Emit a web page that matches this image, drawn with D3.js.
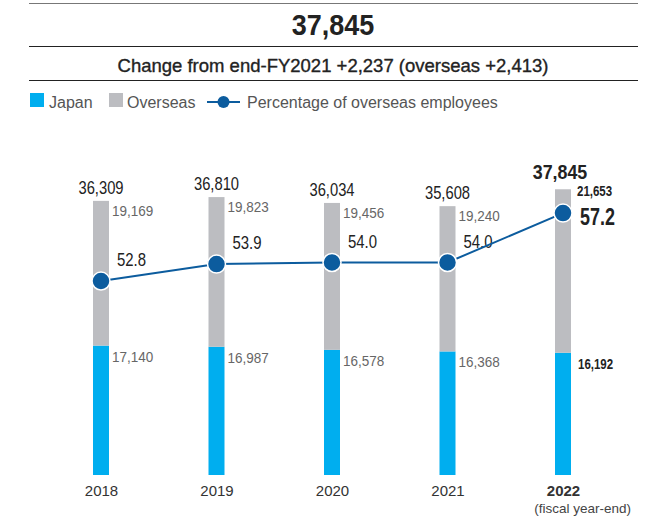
<!DOCTYPE html>
<html>
<head>
<meta charset="utf-8">
<script src="https://cdn.jsdelivr.net/npm/d3@7"></script>
<style>
  body { margin: 0; background: #fff; }
  svg { display: block; font-family: "Liberation Sans", Arial, sans-serif; }
</style>
</head>
<body>
<div class="chart"></div>
<script>
// DATA
const YEARS = ["2018", "2019", "2020", "2021", "2022"];
const JAPAN = [17140, 16987, 16578, 16368, 16192];
const OVERSEAS = [19169, 19823, 19456, 19240, 21653];
const TOTAL = [36309, 36810, 36034, 35608, 37845];
const PCT = [52.8, 53.9, 54.0, 54.0, 57.2];

const TITLE = "37,845";
const SUBTITLE = "Change from end-FY2021 +2,237 (overseas +2,413)";

// FRAME
const FRAME_WIDTH = 650;
const FRAME_HEIGHT = 516;
const BASE_Y = 475;

const COLOR_JAPAN = "#00aeef";
const COLOR_OVERSEAS = "#bcbdc1";
const COLOR_LINE = "#0c5c9e";

const FRAME = d3.select(".chart")
  .append("svg")
    .attr("width", FRAME_WIDTH)
    .attr("height", FRAME_HEIGHT);

// header lines + text
[3, 46, 80].forEach((y, i) => {
  FRAME.append("line")
    .attr("x1", 29).attr("x2", 638)
    .attr("y1", y + 0.5).attr("y2", y + 0.5)
    .attr("stroke", i == 0 ? "#777" : "#222")
    .attr("stroke-width", 1.2);
});

FRAME.append("text")
  .attr("transform", "translate(333,35) scale(0.93,1)")
  .attr("text-anchor", "middle")
  .attr("font-size", "29px")
  .attr("font-weight", "bold")
  .attr("fill", "#222")
  .text(TITLE);

FRAME.append("text")
  .attr("x", 333).attr("y", 72)
  .attr("text-anchor", "middle")
  .attr("font-size", "18.5px")
  .attr("fill", "#222")
  .attr("stroke", "#222")
  .attr("stroke-width", 0.35)
  .text(SUBTITLE);

// legend
const LEGEND = FRAME.append("g").attr("font-size", "16px").attr("fill", "#555");
LEGEND.append("rect").attr("x", 30).attr("y", 93).attr("width", 14).attr("height", 14).attr("fill", COLOR_JAPAN);
LEGEND.append("text").attr("x", 49).attr("y", 108).text("Japan");
LEGEND.append("rect").attr("x", 109).attr("y", 93).attr("width", 14).attr("height", 14).attr("fill", COLOR_OVERSEAS);
LEGEND.append("text").attr("x", 127).attr("y", 108).text("Overseas");
LEGEND.append("line").attr("x1", 207).attr("x2", 240).attr("y1", 102).attr("y2", 102)
  .attr("stroke", COLOR_LINE).attr("stroke-width", 2);
LEGEND.append("circle").attr("cx", 223.5).attr("cy", 102).attr("r", 6).attr("fill", COLOR_LINE);
LEGEND.append("text").attr("x", 247).attr("y", 108).text("Percentage of overseas employees");

// SCALES
const X_SCALE = d3.scalePoint().domain(YEARS).range([101, 563]);
const Y_SCALE = d3.scaleLinear().domain([0, 40000]).range([BASE_Y, BASE_Y - 40000 * 0.00755]);
const P_SCALE = d3.scaleLinear().domain([50, 60]).range([324.3, 169.8]);
const BAR_WIDTH = 16;

const rows = YEARS.map((y, i) => ({
  year: y, japan: JAPAN[i], overseas: OVERSEAS[i], total: TOTAL[i], pct: PCT[i],
  last: i == YEARS.length - 1
}));

const stack = d3.stack().keys(["japan", "overseas"])(rows);
const colors = {japan: COLOR_JAPAN, overseas: COLOR_OVERSEAS};

// bars
FRAME.selectAll(".layer")
  .data(stack)
  .enter()
  .append("g")
    .attr("fill", (d) => colors[d.key])
  .selectAll("rect")
  .data((d) => d)
  .enter()
  .append("rect")
    .attr("x", (d) => X_SCALE(d.data.year) - BAR_WIDTH / 2)
    .attr("y", (d) => Y_SCALE(d[1]))
    .attr("width", BAR_WIDTH)
    .attr("height", (d) => Y_SCALE(d[0]) - Y_SCALE(d[1]));

// x axis labels (no line)
const X_AXIS = FRAME.append("g")
  .attr("transform", "translate(0," + BASE_Y + ")")
  .call(d3.axisBottom(X_SCALE).tickSize(0).tickPadding(10));
X_AXIS.select(".domain").remove();
X_AXIS.selectAll("text")
  .attr("font-family", "Liberation Sans, Arial, sans-serif")
  .attr("font-size", "15px")
  .attr("fill", "#333")
  .attr("font-weight", (d) => d == "2022" ? "bold" : "normal");

FRAME.append("text")
  .attr("x", 631).attr("y", 513)
  .attr("text-anchor", "end")
  .attr("font-size", "13.5px")
  .attr("fill", "#444")
  .text("(fiscal year-end)");

// value labels, squeezed horizontally to look like a condensed face
const fmt = d3.format(",");
const LABELS = FRAME.append("g");

function squeeze(x, y, s) {
  return "translate(" + x + "," + y + ") scale(" + s + ",1)";
}

LABELS.selectAll(".total")
  .data(rows).enter()
  .append("text")
    .attr("transform", (d) => squeeze(X_SCALE(d.year) + (d.last ? -3 : 0),
                                      Y_SCALE(d.total) - (d.last ? 10 : 7),
                                      d.last ? 0.85 : 0.82))
    .attr("text-anchor", "middle")
    .attr("font-size", (d) => d.last ? "21px" : "18px")
    .attr("font-weight", (d) => d.last ? "bold" : "normal")
    .attr("fill", "#222")
    .text((d) => fmt(d.total));

LABELS.selectAll(".over")
  .data(rows).enter()
  .append("text")
    .attr("transform", (d) => squeeze(X_SCALE(d.year) + (d.last ? 14 : 11),
                                      Y_SCALE(d.total) + (d.last ? 7 : 15),
                                      d.last ? 0.82 : 0.9))
    .attr("font-size", (d) => d.last ? "14px" : "15px")
    .attr("font-weight", (d) => d.last ? "bold" : "normal")
    .attr("fill", (d) => d.last ? "#222" : "#666")
    .text((d) => fmt(d.overseas));

LABELS.selectAll(".jp")
  .data(rows).enter()
  .append("text")
    .attr("transform", (d) => squeeze(X_SCALE(d.year) + (d.last ? 15 : 11),
                                      Y_SCALE(d.japan) + 16,
                                      d.last ? 0.82 : 0.9))
    .attr("font-size", (d) => d.last ? "14px" : "15px")
    .attr("font-weight", (d) => d.last ? "bold" : "normal")
    .attr("fill", (d) => d.last ? "#222" : "#666")
    .text((d) => fmt(d.japan));

// percentage line
const line = d3.line()
  .x((d) => X_SCALE(d.year))
  .y((d) => P_SCALE(d.pct));

FRAME.append("path")
  .datum(rows)
  .attr("d", line)
  .attr("fill", "none")
  .attr("stroke", COLOR_LINE)
  .attr("stroke-width", 2);

FRAME.selectAll(".pt")
  .data(rows).enter()
  .append("circle")
    .attr("cx", (d) => X_SCALE(d.year))
    .attr("cy", (d) => P_SCALE(d.pct))
    .attr("r", 9)
    .attr("fill", COLOR_LINE)
    .attr("stroke", "#fff")
    .attr("stroke-width", 1.5);

LABELS.selectAll(".pct")
  .data(rows).enter()
  .append("text")
    .attr("transform", (d) => squeeze(X_SCALE(d.year) + (d.last ? 17 : 16),
                                      P_SCALE(d.pct) + (d.last ? 12 : -15),
                                      d.last ? 0.78 : 0.83))
    .attr("font-size", (d) => d.last ? "23px" : "18px")
    .attr("font-weight", (d) => d.last ? "bold" : "normal")
    .attr("fill", "#222")
    .text((d) => d.pct.toFixed(1));
</script>
</body>
</html>
